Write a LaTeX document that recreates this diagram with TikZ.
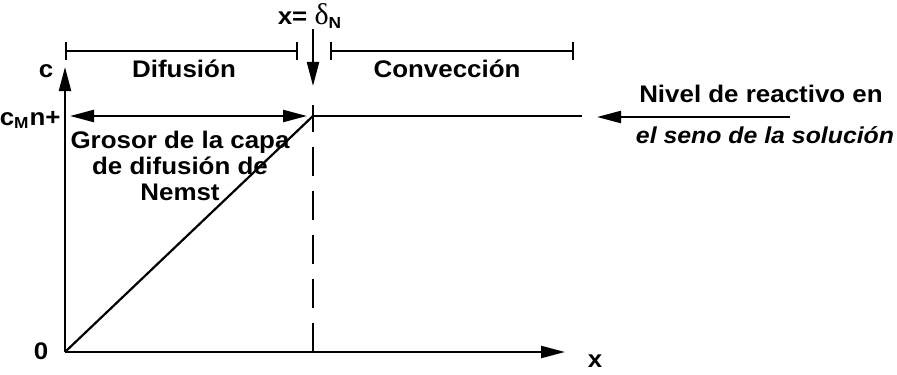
\documentclass[tikz,border=0pt]{standalone}
\usepackage{fontspec}
\setmainfont[FakeStretch=1.08]{Liberation Sans}
\newfontfamily\greekfont{Liberation Serif}
\usetikzlibrary{arrows.meta,positioning}

\begin{document}
\begin{tikzpicture}[
  x=0.5pt, y=-0.5pt,
  every node/.style={font=\fontsize{12}{13}\selectfont\bfseries, inner sep=0pt},
  >={Triangle[length=12pt,width=6pt]},
  axis/.style={line width=1.1pt},
  bracket/.style={line width=0.8pt, {Bar[width=9pt]}-{Bar[width=9pt]}},
]
\useasboundingbox (0,0) rectangle (897,374);

% --- Constants ---
\def\dN{313}   % position of delta_N
\def\lev{116}  % bulk level

% --- Key points ---
\coordinate (O)     at (65,352);
\coordinate (ytip)  at (65,67);
\coordinate (xtip)  at (565,352);
\coordinate (top)   at (\dN,\lev);
\coordinate (dbase) at (\dN,352);

% --- Axes ---
\draw[axis,->] (O) -- (ytip);
\draw[axis,->] (O) -- (xtip);
\node (clab) at (46,71) {c};
\node (zero) at (41,351) {0};
\node (xlab) at (595,361) {x};
\node[anchor=east] (cM) at (61,120) {c\textsubscript{M}n+};

% --- Concentration profile ---
\draw[axis] (O) -- (top);
\draw[axis] (top) -- (582,\lev);
\draw[axis, dash pattern=on 14.5pt off 7.5pt] (dbase) -- (\dN,105);

% --- delta_N marker ---
\node[anchor=base] (xd) at (310,25) {x= {\greekfont\mdseries\fontsize{15}{15}\selectfont δ}\textsubscript{N}};
\draw[axis,->] (xd.south -| top) -- (\dN,86);

% --- Regions ---
\draw[bracket] (65,51) -- (298,51);
\draw[bracket] (330,51) -- (574,51);
\node[anchor=base] (dif)  at (184,77) {Difusión};
\node[anchor=base] (conv) at (447,77) {Convección};

% --- Nernst layer ---
\draw[axis,<->] (70,\lev) -- (307,\lev);
\node[align=center] (grosor) at (180,166) {Grosor de la capa\\de difusión de\\Nemst};

% --- Bulk level ---
\draw[axis,->] (790,117) -- (597,117);
\node[anchor=base] (nivel) at (761,103) {Nivel de reactivo en};
\node[anchor=base, font=\fontsize{11.5}{13}\selectfont\bfseries\itshape] (seno) at (765,143) {el seno de la solución};

\end{tikzpicture}
\end{document}
